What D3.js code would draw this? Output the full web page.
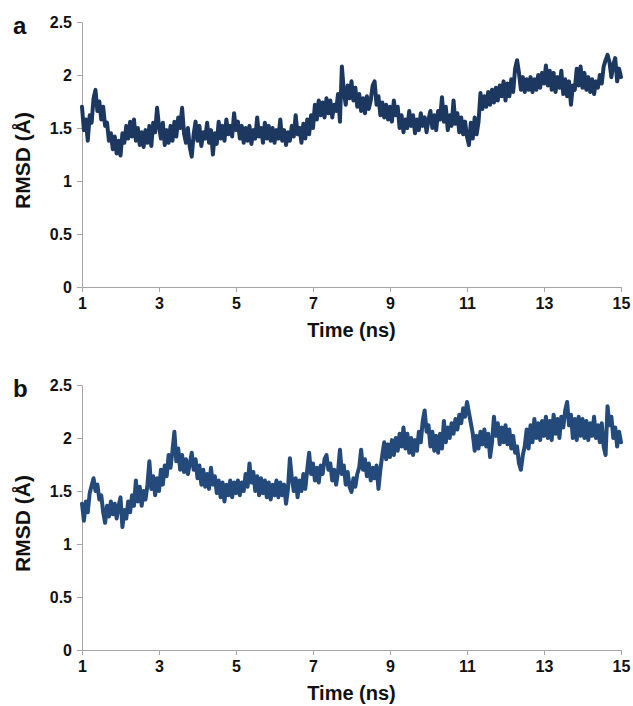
<!DOCTYPE html>
<html>
<head>
<meta charset="utf-8">
<script src="https://cdn.jsdelivr.net/npm/d3@7"></script>
<style>
  body { margin: 0; background: #fff; }
  svg { display: block; font-family: Arial, "Liberation Sans", sans-serif; }
  .axis path, .axis line { stroke: #a6a6a6; }
  .axis text { fill: #111; font-size: 16px; font-weight: bold; }
</style>
</head>
<body>
<svg id="MyGraph" width="633" height="706"></svg>
<script>
// sampling step of the trajectory (ns), first frame at 1 ns
var tStart = 1, tStep = 0.05;

var xTicks = [1, 3, 5, 7, 9, 11, 13, 15];
var yTicks = [0, 0.5, 1, 1.5, 2, 2.5];

// panel a, RMSD (Å) every 0.05 ns from 1 to 15 ns
var rmsdA = [
  1.70,1.48,1.58,1.38,1.62,1.55,1.78,1.86,1.66,1.75,1.58,1.70,1.52,1.55,1.38,1.45,1.30,1.42,1.26,1.38,
  1.24,1.45,1.36,1.52,1.40,1.56,1.42,1.58,1.38,1.50,1.34,1.46,1.32,1.48,1.36,1.52,1.33,1.55,1.46,1.69,
  1.52,1.40,1.55,1.34,1.48,1.36,1.52,1.38,1.56,1.42,1.60,1.50,1.69,1.45,1.36,1.50,1.32,1.23,1.44,1.56,
  1.38,1.52,1.33,1.46,1.40,1.55,1.36,1.48,1.25,1.45,1.35,1.56,1.40,1.52,1.38,1.58,1.44,1.52,1.42,1.64,
  1.48,1.56,1.40,1.52,1.36,1.50,1.38,1.52,1.35,1.48,1.40,1.60,1.42,1.50,1.36,1.55,1.40,1.52,1.38,1.50,
  1.36,1.48,1.40,1.58,1.38,1.48,1.34,1.46,1.38,1.52,1.42,1.62,1.44,1.50,1.36,1.54,1.40,1.58,1.44,1.62,
  1.50,1.72,1.58,1.76,1.62,1.74,1.60,1.78,1.64,1.76,1.60,1.72,1.66,1.82,1.56,2.08,1.85,1.72,1.90,1.78,
  1.94,1.76,1.88,1.70,1.82,1.66,1.78,1.64,1.80,1.68,1.76,1.90,1.94,1.72,1.80,1.62,1.74,1.60,1.72,1.58,
  1.70,1.56,1.76,1.62,1.70,1.50,1.62,1.46,1.58,1.50,1.66,1.52,1.62,1.45,1.58,1.48,1.64,1.52,1.60,1.46,
  1.58,1.66,1.50,1.62,1.48,1.66,1.58,1.79,1.56,1.70,1.48,1.62,1.52,1.76,1.54,1.64,1.46,1.60,1.44,1.56,
  1.42,1.34,1.55,1.40,1.60,1.44,1.56,1.83,1.68,1.80,1.70,1.84,1.72,1.86,1.74,1.88,1.76,1.90,1.80,1.94,
  1.76,1.92,1.80,1.96,1.84,2.06,2.14,2.02,1.86,1.98,1.84,1.96,1.86,1.98,1.84,1.96,1.86,2.00,1.88,2.02,
  1.92,2.09,1.90,2.04,1.86,2.02,1.84,1.98,1.88,2.04,1.82,1.96,1.80,1.94,1.72,1.90,1.86,2.06,1.90,2.08,
  1.88,2.02,1.86,1.98,1.84,1.96,1.82,1.94,1.88,2.00,1.92,2.08,2.14,2.19,2.12,1.98,2.10,2.16,1.94,2.06,1.98
];

// panel b
var rmsdB = [
  1.38,1.22,1.40,1.30,1.48,1.55,1.62,1.50,1.56,1.42,1.46,1.30,1.20,1.36,1.26,1.40,1.28,1.38,1.24,1.36,
  1.44,1.16,1.32,1.24,1.40,1.30,1.46,1.36,1.60,1.40,1.54,1.36,1.50,1.42,1.56,1.78,1.52,1.64,1.46,1.62,
  1.50,1.70,1.56,1.74,1.64,1.84,1.72,1.88,2.06,1.78,1.90,1.70,1.84,1.68,1.80,1.66,1.76,1.86,1.70,1.80,
  1.62,1.74,1.56,1.70,1.54,1.66,1.52,1.72,1.56,1.64,1.48,1.60,1.44,1.58,1.40,1.56,1.46,1.60,1.44,1.58,
  1.48,1.60,1.46,1.58,1.50,1.66,1.54,1.76,1.58,1.68,1.50,1.64,1.46,1.62,1.48,1.60,1.44,1.58,1.42,1.56,
  1.46,1.60,1.44,1.58,1.46,1.56,1.38,1.52,1.81,1.62,1.50,1.62,1.44,1.60,1.50,1.66,1.52,1.70,1.86,1.66,
  1.76,1.60,1.72,1.58,1.74,1.66,1.80,1.84,1.70,1.76,1.60,1.70,1.56,1.68,1.89,1.66,1.74,1.56,1.68,1.54,
  1.49,1.62,1.54,1.66,1.72,1.89,1.70,1.80,1.64,1.76,1.60,1.72,1.62,1.74,1.52,1.70,1.84,1.96,1.80,1.94,
  1.82,1.98,1.84,2.00,1.88,2.04,1.92,2.10,1.90,2.04,1.86,2.00,1.84,1.98,1.88,2.06,1.96,2.16,2.26,2.06,
  2.12,1.92,2.06,1.88,2.02,1.86,2.04,1.90,2.16,1.96,2.10,2.00,2.14,2.04,2.18,2.08,2.22,2.14,2.28,2.20,
  2.34,2.24,2.14,2.04,1.88,2.02,1.90,2.06,1.94,2.08,1.92,2.04,1.82,1.96,2.20,2.02,2.14,1.94,2.10,1.96,
  2.12,1.94,2.08,1.90,2.02,1.86,1.92,1.76,1.70,1.84,1.92,2.08,1.90,2.12,1.96,2.18,2.00,2.14,1.98,2.16,
  2.02,2.20,2.00,2.16,1.98,2.22,2.04,2.18,2.00,2.20,2.10,2.26,2.34,2.12,2.22,2.00,2.18,1.98,2.20,2.02,
  2.18,2.00,2.16,1.98,2.14,2.02,2.20,2.00,2.12,1.96,2.14,1.92,1.84,2.30,2.12,2.20,2.00,2.10,1.92,2.06,1.96
];

var svg = d3.select("#MyGraph");

function drawPanel(values, top, letter, color) {
  var left = 82, width = 539, height = 265;

  var x = d3.scaleLinear().domain([1, 15]).range([left, left + width]);
  var y = d3.scaleLinear().domain([0, 2.5]).range([top + height, top]);

  var g = svg.append("g");

  g.append("g")
      .attr("class", "axis")
      .attr("transform", "translate(0," + (top + height) + ")")
      .call(d3.axisBottom(x).tickValues(xTicks).tickSize(5).tickSizeOuter(0).tickPadding(6)
        .tickFormat(d3.format("d")));

  g.append("g")
      .attr("class", "axis")
      .attr("transform", "translate(" + left + ",0)")
      .call(d3.axisLeft(y).tickValues(yTicks).tickSize(5).tickSizeOuter(0).tickPadding(5)
        .tickFormat(function(d) { return d; }));

  g.selectAll(".axis text").attr("fill", "#111");

  var line = d3.line()
      .x(function(d, i) { return x(tStart + i * tStep); })
      .y(function(d) { return y(d); });

  g.append("path")
      .datum(values)
      .attr("fill", "none")
      .attr("stroke", color)
      .attr("stroke-width", 4)
      .attr("stroke-linejoin", "round")
      .attr("stroke-linecap", "round")
      .attr("d", line);

  g.append("text")
      .attr("x", (left + left + width) / 2)
      .attr("y", top + height + 50)
      .attr("text-anchor", "middle")
      .style("font-size", "20px")
      .style("font-weight", "bold")
      .attr("fill", "#111")
      .text("Time (ns)");

  g.append("text")
      .attr("transform", "translate(30," + (top + height / 2 + 6) + ") rotate(-90)")
      .attr("text-anchor", "middle")
      .style("font-size", "21px")
      .style("font-weight", "bold")
      .attr("fill", "#111")
      .text("RMSD (Å)");

  g.append("text")
      .attr("x", 13)
      .attr("y", top + 12)
      .style("font-size", "24px")
      .style("font-weight", "bold")
      .attr("fill", "#111")
      .text(letter);
}

drawPanel(rmsdA, 22, "a", "#1d3860");
drawPanel(rmsdB, 385, "b", "#24497b");
</script>
</body>
</html>
